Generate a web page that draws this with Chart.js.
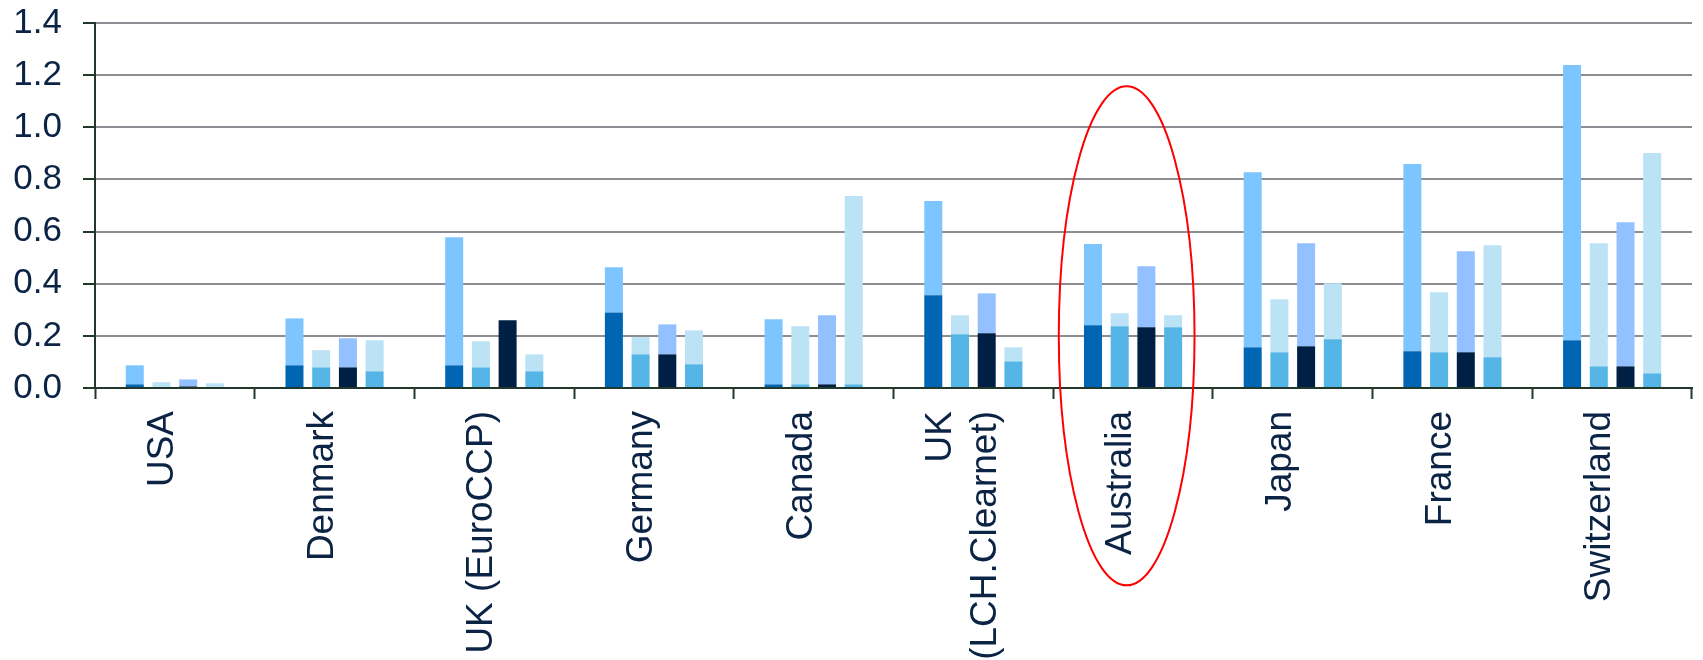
<!DOCTYPE html>
<html>
<head>
<meta charset="utf-8">
<script src="https://cdn.jsdelivr.net/npm/chart.js@4/dist/chart.umd.min.js"></script>
<style>
  html, body { margin: 0; padding: 0; background: #ffffff; }
  #wrap { width: 1703px; height: 660px; }
</style>
</head>
<body>
<div id="wrap"><canvas id="c" width="1703" height="660"></canvas></div>
<script>
// Categories
const categories = ['USA', 'Denmark', 'UK (EuroCCP)', 'Germany', 'Canada',
  ['UK', '(LCH.Clearnet)'], 'Australia', 'Japan', 'France', 'Switzerland'];

// Bar 1 (lower / upper segments)
const bar1Lower = [0.014, 0.087, 0.087, 0.290, 0.014, 0.356, 0.241, 0.156, 0.141, 0.183];
const bar1Upper = [0.073, 0.180, 0.491, 0.173, 0.250, 0.361, 0.311, 0.672, 0.718, 1.056];
// Bar 2
const bar2Lower = [0.000, 0.079, 0.079, 0.129, 0.014, 0.206, 0.237, 0.137, 0.137, 0.083];
const bar2Upper = [0.022, 0.066, 0.100, 0.066, 0.223, 0.073, 0.050, 0.203, 0.230, 0.472];
// Bar 3
const bar3Lower = [0.006, 0.079, 0.260, 0.129, 0.014, 0.210, 0.233, 0.160, 0.137, 0.083];
const bar3Upper = [0.027, 0.112, 0.000, 0.115, 0.265, 0.153, 0.234, 0.395, 0.388, 0.553];
// Bar 4
const bar4Lower = [0.000, 0.064, 0.064, 0.091, 0.014, 0.102, 0.233, 0.187, 0.118, 0.056];
const bar4Upper = [0.018, 0.119, 0.065, 0.130, 0.722, 0.054, 0.046, 0.215, 0.430, 0.845];

// Y tick values
const yTicks = [0, 0.2, 0.4, 0.6, 0.8, 1.0, 1.2, 1.4];
// Highlighted category
const highlightIndex = 6;

const textColor = '#0B2344';
const axisColor = '#22382A';

// centre the two-line label block on its tick, as in the original
const multiLineLabelPlugin = {
  id: 'multiLineLabel',
  beforeDraw(chart) {
    const xs = chart.scales.x;
    const items = xs.getLabelItems();
    items.forEach((it) => {
      if (Array.isArray(it.label) && it.label.length > 1 && !it._shifted) {
        const lh = it.font.lineHeight;
        it.options.translation[0] -= lh * (it.label.length - 1) / 2 - 2;
        it._shifted = true;
      }
    });
  }
};

const ellipsePlugin = {
  id: 'highlightEllipse',
  afterDraw(chart) {
    const xs = chart.scales.x, ys = chart.scales.y;
    const catW = xs.getPixelForValue(1) - xs.getPixelForValue(0);
    const cx = xs.getPixelForValue(highlightIndex) - 0.04 * catW;
    const cy = ys.getPixelForValue(0.2);
    const ry = ys.getPixelForValue(0) - ys.getPixelForValue(0.957);
    const rx = 0.425 * catW;
    const ctx = chart.ctx;
    ctx.save();
    ctx.beginPath();
    ctx.ellipse(cx, cy, rx, ry, 0, 0, Math.PI * 2);
    ctx.strokeStyle = '#FF0000';
    ctx.lineWidth = 2;
    ctx.stroke();
    ctx.restore();
  }
};

const mk = (label, data, color, stack) => ({
  label, data, backgroundColor: color, stack, borderWidth: 0,
  categoryPercentage: 0.669, barPercentage: 0.674
});

new Chart(document.getElementById('c'), {
  type: 'bar',
  data: {
    labels: categories,
    datasets: [
      mk('Bar 1 lower', bar1Lower, '#0066B3', 's1'),
      mk('Bar 1 upper', bar1Upper, '#7DC5FF', 's1'),
      mk('Bar 2 lower', bar2Lower, '#55B5E6', 's2'),
      mk('Bar 2 upper', bar2Upper, '#BBE2F5', 's2'),
      mk('Bar 3 lower', bar3Lower, '#001F45', 's3'),
      mk('Bar 3 upper', bar3Upper, '#93C1FF', 's3'),
      mk('Bar 4 lower', bar4Lower, '#55B5E6', 's4'),
      mk('Bar 4 upper', bar4Upper, '#BBE2F5', 's4')
    ]
  },
  options: {
    responsive: false,
    animation: false,
    devicePixelRatio: 1,
    layout: { padding: { top: 23, right: 11, left: 0, bottom: 0 } },
    plugins: { legend: { display: false }, tooltip: { enabled: false } },
    scales: {
      x: {
        stacked: true,
        offset: true,
        grid: {
          display: true, drawOnChartArea: false, drawTicks: true,
          tickLength: 11, tickColor: axisColor, tickWidth: 2, offset: true
        },
        border: { display: true, color: axisColor, width: 2 },
        ticks: {
          autoSkip: false, minRotation: 90, maxRotation: 90,
          padding: 12, labelOffset: -12,
          color: textColor,
          font: { family: '"Liberation Sans", Arial, sans-serif', size: 37, lineHeight: 1.2 }
        },
        afterFit(axis) { axis.height = 272; }
      },
      y: {
        stacked: true,
        min: 0, max: 1.4,
        afterBuildTicks(axis) { axis.ticks = yTicks.map(v => ({ value: v })); },
        grid: {
          color: '#8C8C92', lineWidth: 2, drawTicks: true,
          tickLength: 12, tickColor: axisColor, tickWidth: 2
        },
        border: { display: true, color: axisColor, width: 2 },
        ticks: {
          padding: 21,
          color: textColor,
          font: { family: '"Liberation Sans", Arial, sans-serif', size: 35 },
          callback: (v) => Number(v).toFixed(1)
        },
        afterFit(axis) {
          axis.width = 95;
          axis.paddingTop = 0;
          axis.paddingBottom = 0;
        }
      }
    }
  },
  plugins: [multiLineLabelPlugin, ellipsePlugin]
});
</script>
</body>
</html>
